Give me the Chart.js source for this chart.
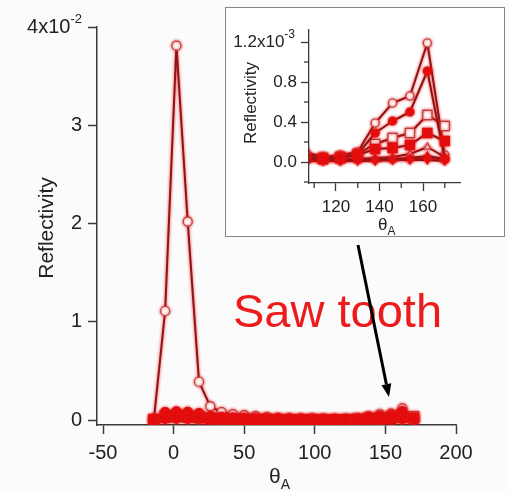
<!DOCTYPE html>
<html><head><meta charset="utf-8">
<script src="https://cdn.jsdelivr.net/npm/chart.js@4"></script>
<style>
html,body{margin:0;padding:0;background:#fbfbfb;}
#wrap{position:relative;width:509px;height:490px;overflow:hidden;}
#main{position:absolute;left:0;top:0;}
#insetBox{position:absolute;left:225px;top:7px;width:278px;height:228px;border:1px solid #858585;background:#fff;}
#inset{position:absolute;left:0;top:0;}
</style></head><body>
<div id="wrap">
<canvas id="main" width="509" height="490"></canvas>
<div id="insetBox"><canvas id="inset" width="278" height="228"></canvas></div>
</div>
<script>
// ---- data (angles in degrees, reflectivity in units of 1e-3) ----
const angles = [-14,-6,2,10,18,26,34,42,50,58,66,74,82,90,98,106,114,122,130,138,146,154,162,170];
const rOpenCircle    = [0.02,11.1,38.1,20.2,3.9,1.4,0.8,0.6,0.5,0.4,0.3,0.22,0.18,0.15,0.12,0.1,0.05,0.07,0.1,0.39,0.59,0.66,1.19,0.07];
const rFilledCircle  = [0.1,0.8,0.9,0.85,0.7,0.4,0.3,0.22,0.18,0.15,0.12,0.1,0.1,0.08,0.08,0.07,0.05,0.05,0.08,0.29,0.41,0.5,0.91,0.03];
const rOpenSquare    = [0.05,0.4,0.5,0.45,0.35,0.2,0.15,0.12,0.1,0.08,0.07,0.06,0.06,0.05,0.05,0.05,0.04,0.05,0.08,0.18,0.24,0.29,0.47,0.36];
const rFilledSquare  = [0.03,0.3,0.35,0.3,0.25,0.15,0.1,0.08,0.07,0.06,0.05,0.05,0.04,0.04,0.04,0.04,0.03,0.04,0.07,0.13,0.14,0.17,0.29,0.21];
const rOpenTriangle  = [0.02,0.2,0.25,0.2,0.15,0.1,0.08,0.06,0.05,0.05,0.04,0.04,0.03,0.03,0.03,0.03,0.02,0.03,0.03,0.04,0.05,0.08,0.15,0.05];
const rFilledTriangle= [0.01,0.12,0.14,0.12,0.09,0.06,0.05,0.04,0.03,0.03,0.03,0.02,0.02,0.02,0.02,0.02,0.02,0.02,0.02,0.03,0.03,0.04,0.06,0.03];
const rOpenDiamond   = [0.01,0.08,0.1,0.08,0.06,0.04,0.03,0.03,0.02,0.02,0.02,0.02,0.02,0.02,0.02,0.02,0.01,0.01,0.02,0.02,0.02,0.03,0.04,0.02];
const rFilledDown    = [0.0,0.05,0.06,0.05,0.04,0.03,0.02,0.02,0.01,0.01,0.01,0.01,0.01,0.01,0.01,0.01,0.01,0.01,0.01,0.01,0.02,0.02,0.02,0.01];

const mainXTicks  = [-50,0,50,100,150,200];
const mainYTicks  = [0,0.01,0.02,0.03,0.04];
const mainYLabels = ['0','1','2','3','4x10'];
const mainYExp    = '-2';
const insetXTicks = [120,140,160];
const insetXMinor = [110,130,150,170];
const insetYTicks = [0,0.0004,0.0008,0.0012];
const insetYLabels= ['0.0','0.4','0.8','1.2x10'];
const insetYMinor = [-0.0002,0.0002,0.0006,0.001];
const insetYExp   = '-3';
const yTitle = 'Reflectivity';
const xTitle = 'θ', xTitleSub = 'A';
const note = 'Saw tooth';

const FONT = "'Liberation Sans', Arial, sans-serif";
const LINE = '#901414', RED = '#e20c0c', OPEN_EDGE = '#b84040';

// first entry is drawn on top
const seriesDefs = [
  [rFilledSquare,'rect',true,0],
  [rFilledCircle,'circle',true,0],
  [rFilledTriangle,'triangle',true,0],
  [rFilledDown,'triangle',true,180],
  [rOpenSquare,'rect',false,0],
  [rOpenTriangle,'triangle',false,0],
  [rOpenDiamond,'rectRot',false,0],
  [rOpenCircle,'circle',false,0]
];
function buildDatasets(r){
  return seriesDefs.map(([vals,style,filled,rot])=>({
    data: angles.map((a,i)=>({x:a,y:vals[i]*1e-3})),
    borderColor: LINE, borderWidth: 2,
    pointStyle: style, pointRotation: rot,
    pointRadius: style==='rect'? r+2.5 : r,
    pointBackgroundColor: filled? RED : '#ffffff',
    pointBorderColor: filled? RED : OPEN_EDGE,
    pointBorderWidth: 1.2,
    tension: 0
  }));
}

const glow = {id:'glow',
  beforeDatasetsDraw(c){c.ctx.save();c.ctx.shadowColor='rgba(235,25,25,0.9)';c.ctx.shadowBlur=3;},
  afterDatasetsDraw(c){c.ctx.restore();}};

function drawExpLabel(ctx, y, rightX, base, exp, size, expSize){
  ctx.save();
  ctx.fillStyle='#222';
  ctx.font = expSize+'px '+FONT;
  const ew = ctx.measureText(exp).width;
  ctx.font = size+'px '+FONT;
  ctx.textAlign='right'; ctx.textBaseline='middle';
  ctx.fillText(base, rightX-ew, y);
  ctx.font = expSize+'px '+FONT;
  ctx.textAlign='left'; ctx.textBaseline='alphabetic';
  ctx.fillText(exp, rightX-ew, y-4);
  ctx.restore();
}
function drawSubTitle(ctx, x, y, main, sub, size, subSize){
  ctx.save(); ctx.fillStyle='#222'; ctx.textBaseline='alphabetic'; ctx.textAlign='left';
  ctx.font=size+'px '+FONT; const w=ctx.measureText(main).width;
  ctx.fillText(main,x,y);
  ctx.font=subSize+'px '+FONT; ctx.fillText(sub,x+w,y+size*0.28);
  ctx.restore();
}
function drawRotTitle(ctx, x, y, txt, size){
  ctx.save(); ctx.translate(x,y); ctx.rotate(-Math.PI/2);
  ctx.fillStyle='#222'; ctx.font=size+'px '+FONT; ctx.textAlign='center'; ctx.textBaseline='middle';
  ctx.fillText(txt,0,0); ctx.restore();
}

const mainDecor = {id:'mainDecor', afterDraw(c){
  const ctx=c.ctx, ys=c.scales.y;
  drawExpLabel(ctx, ys.getPixelForValue(mainYTicks[4]), 82, mainYLabels[4], mainYExp, 20, 13);
  drawRotTitle(ctx, 47, 228, yTitle, 21);
  drawSubTitle(ctx, 269, 483, xTitle, xTitleSub, 21, 14);
  ctx.save();
  ctx.fillStyle='#ec1c1c'; ctx.font='47px '+FONT; ctx.textAlign='left'; ctx.textBaseline='alphabetic';
  ctx.fillText(note, 233, 327);
  // arrow
  const x0=358,y0=245,x1=389,y1=397;
  const ang=Math.atan2(y1-y0,x1-x0), hl=13, hw=5;
  const bx=x1-hl*Math.cos(ang), by=y1-hl*Math.sin(ang);
  ctx.strokeStyle='#000'; ctx.lineWidth=3; ctx.beginPath(); ctx.moveTo(x0,y0); ctx.lineTo(bx,by); ctx.stroke();
  ctx.fillStyle='#000'; ctx.beginPath(); ctx.moveTo(x1,y1);
  ctx.lineTo(bx+hw*Math.sin(ang), by-hw*Math.cos(ang));
  ctx.lineTo(bx-hw*Math.sin(ang), by+hw*Math.cos(ang)); ctx.closePath(); ctx.fill();
  ctx.restore();
}};

const AX='#3a3a3a';
new Chart(document.getElementById('main'), {
  type:'line',
  data:{datasets: buildDatasets(4.5)},
  options:{
    responsive:false, animation:false, events:[],
    layout:{padding:{top:27,right:53,left:0,bottom:0}},
    plugins:{legend:{display:false}, tooltip:{enabled:false}},
    scales:{
      x:{type:'linear', min:-54.25, max:200,
        afterFit:s=>{s.height=65;},
        afterBuildTicks:s=>{s.ticks=mainXTicks.map(v=>({value:v}));},
        border:{display:true,color:AX,width:1.5},
        grid:{drawOnChartArea:false,drawTicks:true,tickLength:9,tickColor:AX,tickWidth:1.5},
        ticks:{color:'#222',font:{size:20,family:FONT},padding:7,maxRotation:0,autoSkip:false,callback:v=>String(v)}},
      y:{type:'linear', min:-0.0005, max:0.04,
        afterFit:s=>{s.width=97;},
        afterBuildTicks:s=>{s.ticks=mainYTicks.map(v=>({value:v}));},
        border:{display:true,color:AX,width:1.5},
        grid:{drawOnChartArea:false,drawTicks:true,tickLength:9,tickColor:AX,tickWidth:1.5},
        ticks:{color:'#222',font:{size:20,family:FONT},padding:6,autoSkip:false,
          callback:(v,i)=> i===mainYTicks.length-1 ? '' : mainYLabels[i]}}
    }
  },
  plugins:[glow, mainDecor]
});

const insetDecor = {id:'insetDecor', afterDraw(c){
  const ctx=c.ctx, xs=c.scales.x, ys=c.scales.y, ca=c.chartArea;
  ctx.save(); ctx.strokeStyle=AX; ctx.lineWidth=1.3;
  insetXMinor.forEach(v=>{const p=xs.getPixelForValue(v); ctx.beginPath(); ctx.moveTo(p,ca.bottom); ctx.lineTo(p,ca.bottom+5); ctx.stroke();});
  insetYMinor.forEach(v=>{const p=ys.getPixelForValue(v); ctx.beginPath(); ctx.moveTo(ca.left,p); ctx.lineTo(ca.left-5,p); ctx.stroke();});
  ctx.restore();
  drawExpLabel(ctx, ys.getPixelForValue(insetYTicks[3]), 69, insetYLabels[3], insetYExp, 17, 12);
  drawRotTitle(ctx, 25, 95, yTitle, 17);
  drawSubTitle(ctx, 152, 222, xTitle, xTitleSub, 17, 12);
}};

new Chart(document.getElementById('inset'), {
  type:'line',
  data:{datasets: buildDatasets(4)},
  options:{
    responsive:false, animation:false, events:[],
    layout:{padding:{top:22,right:44,left:0,bottom:0}},
    plugins:{legend:{display:false}, tooltip:{enabled:false}},
    scales:{
      x:{type:'linear', min:107.6, max:177,
        afterFit:s=>{s.height=53;},
        afterBuildTicks:s=>{s.ticks=insetXTicks.map(v=>({value:v}));},
        border:{display:true,color:AX,width:1.3},
        grid:{drawOnChartArea:false,drawTicks:true,tickLength:8,tickColor:AX,tickWidth:1.3},
        ticks:{color:'#222',font:{size:17,family:FONT},padding:6,maxRotation:0,autoSkip:false,callback:v=>String(v)}},
      y:{type:'linear', min:-0.00021, max:0.00132,
        afterFit:s=>{s.width=83;},
        afterBuildTicks:s=>{s.ticks=insetYTicks.map(v=>({value:v}));},
        border:{display:true,color:AX,width:1.3},
        grid:{drawOnChartArea:false,drawTicks:true,tickLength:8,tickColor:AX,tickWidth:1.3},
        ticks:{color:'#222',font:{size:17,family:FONT},padding:4,autoSkip:false,
          callback:(v,i)=> i===insetYTicks.length-1 ? '' : insetYLabels[i]}}
    }
  },
  plugins:[glow, insetDecor]
});
</script>
</body></html>
